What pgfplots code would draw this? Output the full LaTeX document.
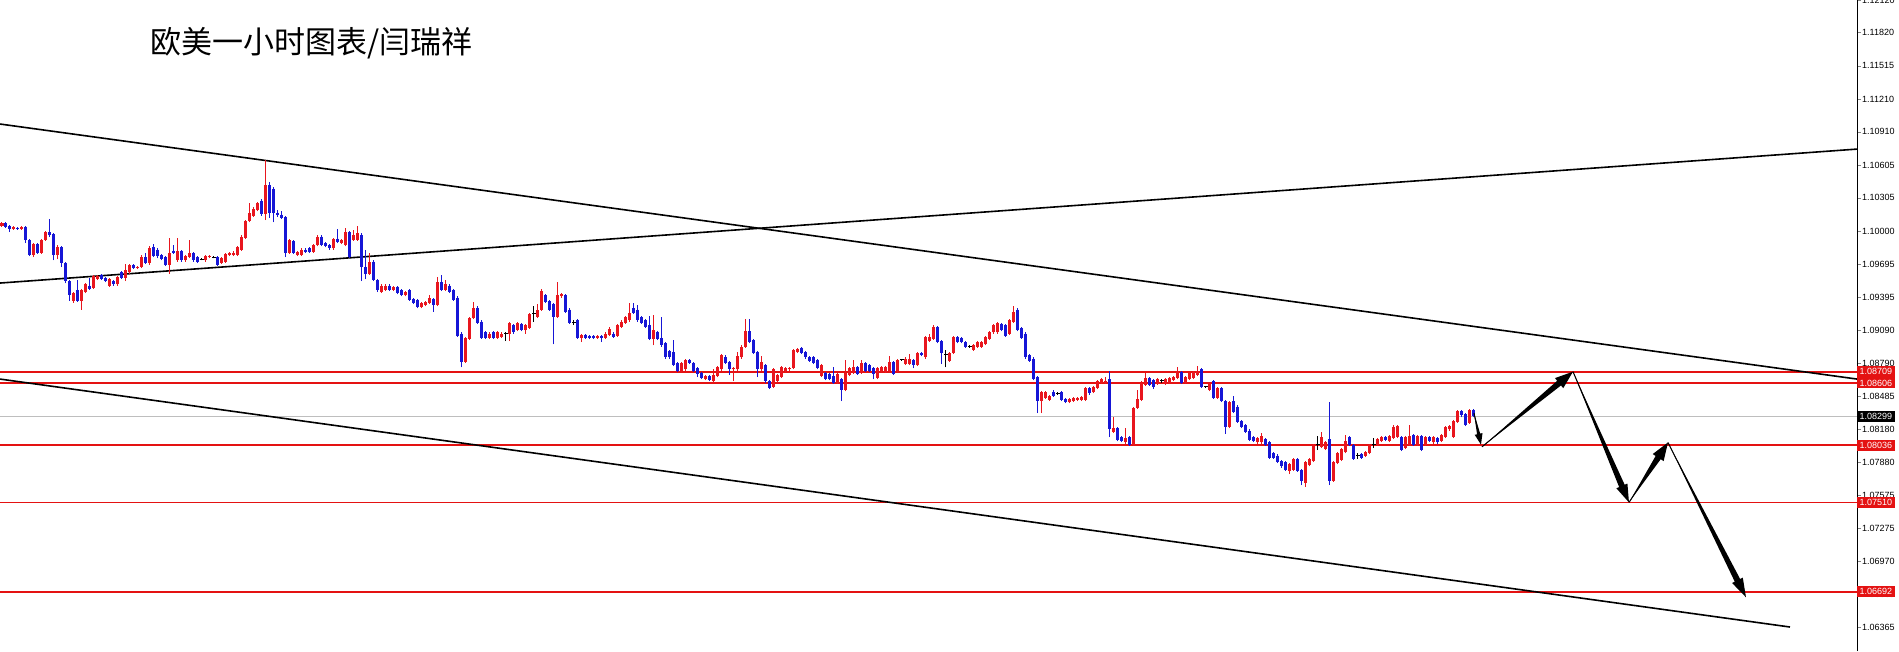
\documentclass[border=0pt]{standalone}
\usepackage{pgfplots}
\pgfplotsset{compat=1.18}
\usepackage{pgfplotstable}
\usepackage{fontspec}
\setmainfont{Liberation Sans}
\newfontfamily\cjk{Noto Sans CJK SC}
\usetikzlibrary{calc}

\definecolor{cup}{RGB}{232,22,30}
\definecolor{cdn}{RGB}{22,22,214}
\definecolor{lvl}{RGB}{228,18,18}
\definecolor{cur}{RGB}{190,190,190}

% EURUSD 1h candles: index, open, high, low, close
\pgfplotstableread{
x o h l c
0 1.1005 1.1008 1.1004 1.1007
1 1.1007 1.1008 1.1003 1.1004
2 1.1005 1.1006 1.0999 1.1002
3 1.1002 1.1005 1.1001 1.1004
4 1.1003 1.1004 1.1001 1.1002
5 1.1002 1.1005 1.1001 1.1004
6 1.1004 1.1005 1.0989 1.0992
7 1.0992 1.0993 1.0977 1.0978
8 1.0978 1.0989 1.0976 1.0988
9 1.0988 1.0989 1.0979 1.0980
10 1.0980 1.0993 1.0979 1.0992
11 1.0992 1.1000 1.0991 1.0999
12 1.0999 1.1011 1.0995 1.0996
13 1.0997 1.0998 1.0973 1.0978
14 1.0978 1.0987 1.0974 1.0985
15 1.0985 1.0986 1.0967 1.0971
16 1.0971 1.0972 1.0952 1.0954
17 1.0954 1.0955 1.0936 1.0941
18 1.0936 1.0944 1.0934 1.0943
19 1.0946 1.0955 1.0935 1.0936
20 1.0936 1.0947 1.0928 1.0946
21 1.0944 1.0952 1.0943 1.0951
22 1.0950 1.0957 1.0946 1.0947
23 1.0948 1.0960 1.0947 1.0959
24 1.0956 1.0960 1.0955 1.0959
25 1.0960 1.0961 1.0955 1.0956
26 1.0957 1.0958 1.0953 1.0954
27 1.0950 1.0957 1.0949 1.0956
28 1.0954 1.0955 1.0950 1.0951
29 1.0951 1.0959 1.0950 1.0958
30 1.0962 1.0963 1.0956 1.0957
31 1.0957 1.0970 1.0954 1.0964
32 1.0962 1.0970 1.0961 1.0969
33 1.0969 1.0970 1.0965 1.0966
34 1.0966 1.0968 1.0965 1.0967
35 1.0967 1.0978 1.0966 1.0976
36 1.0976 1.0980 1.0970 1.0971
37 1.0971 1.0986 1.0969 1.0984
38 1.0985 1.0988 1.0976 1.0977
39 1.0983 1.0984 1.0975 1.0977
40 1.0978 1.0979 1.0973 1.0974
41 1.0976 1.0977 1.0968 1.0969
42 1.0969 1.0994 1.0961 1.0980
43 1.0982 1.0987 1.0979 1.0980
44 1.0973 1.0994 1.0972 1.0982
45 1.0982 1.0983 1.0972 1.0973
46 1.0973 1.0978 1.0972 1.0977
47 1.0976 1.0992 1.0975 1.0980
48 1.0980 1.0981 1.0972 1.0973
49 1.0976 1.0977 1.0971 1.0972
50 1.0974 1.0975 1.0973 1.0974
51 1.0973 1.0978 1.0972 1.0977
52 1.0976 1.0978 1.0975 1.0977
53 1.0976 1.0977 1.0975 1.0976
54 1.0976 1.0977 1.0968 1.0969
55 1.0971 1.0976 1.0970 1.0975
56 1.0972 1.0980 1.0971 1.0979
57 1.0978 1.0981 1.0977 1.0980
58 1.0978 1.0982 1.0977 1.0980
59 1.0978 1.0986 1.0977 1.0985
60 1.0983 1.0996 1.0982 1.0995
61 1.0994 1.1010 1.0993 1.1009
62 1.1009 1.1026 1.1008 1.1017
63 1.1014 1.1022 1.1013 1.1020
64 1.1019 1.1027 1.1018 1.1026
65 1.1028 1.1029 1.1014 1.1016
66 1.1016 1.1065 1.1010 1.1042
67 1.1042 1.1045 1.1012 1.1017
68 1.1039 1.1040 1.1008 1.1017
69 1.1017 1.1019 1.1013 1.1015
70 1.1015 1.1018 1.1011 1.1012
71 1.1013 1.1014 1.0976 1.0980
72 1.0980 1.0993 1.0979 1.0992
73 1.0991 1.0992 1.0979 1.0980
74 1.0978 1.0982 1.0977 1.0981
75 1.0978 1.0984 1.0977 1.0983
76 1.0983 1.0984 1.0980 1.0981
77 1.0984 1.0985 1.0980 1.0981
78 1.0981 1.0988 1.0980 1.0987
79 1.0987 1.0996 1.0986 1.0995
80 1.0995 1.0996 1.0986 1.0987
81 1.0989 1.0990 1.0985 1.0986
82 1.0987 1.0988 1.0983 1.0984
83 1.0984 1.0994 1.0983 1.0993
84 1.0993 1.1002 1.0989 1.0990
85 1.0989 1.0993 1.0988 1.0992
86 1.0987 1.1003 1.0986 1.0999
87 1.0999 1.1000 1.0975 1.0976
88 1.0992 1.1001 1.0991 1.0996
89 1.0992 1.1005 1.0991 1.0998
90 1.0996 1.0998 1.0954 1.0967
91 1.0967 1.0983 1.0956 1.0961
92 1.0961 1.0980 1.0960 1.0972
93 1.0972 1.0973 1.0954 1.0955
94 1.0955 1.0956 1.0944 1.0946
95 1.0944 1.0951 1.0943 1.0950
96 1.0946 1.0951 1.0945 1.0950
97 1.0950 1.0951 1.0945 1.0946
98 1.0946 1.0950 1.0945 1.0949
99 1.0949 1.0950 1.0942 1.0943
100 1.0946 1.0947 1.0940 1.0941
101 1.0941 1.0945 1.0940 1.0944
102 1.0946 1.0947 1.0936 1.0937
103 1.0938 1.0939 1.0933 1.0934
104 1.0937 1.0938 1.0929 1.0930
105 1.0930 1.0935 1.0929 1.0934
106 1.0932 1.0936 1.0931 1.0935
107 1.0934 1.0941 1.0933 1.0939
108 1.0938 1.0939 1.0926 1.0932
109 1.0932 1.0958 1.0931 1.0953
110 1.0953 1.0960 1.0945 1.0946
111 1.0946 1.0955 1.0945 1.0951
112 1.0950 1.0951 1.0943 1.0944
113 1.0946 1.0947 1.0936 1.0937
114 1.0939 1.0940 1.0903 1.0904
115 1.0906 1.0907 1.0875 1.0880
116 1.0880 1.0903 1.0879 1.0902
117 1.0901 1.0921 1.0900 1.0920
118 1.0920 1.0935 1.0919 1.0929
119 1.0929 1.0931 1.0915 1.0916
120 1.0917 1.0918 1.0901 1.0902
121 1.0907 1.0908 1.0901 1.0902
122 1.0902 1.0907 1.0901 1.0906
123 1.0907 1.0908 1.0901 1.0902
124 1.0902 1.0908 1.0901 1.0907
125 1.0903 1.0907 1.0902 1.0906
126 1.0906 1.0907 1.0899 1.0906
127 1.0906 1.0917 1.0899 1.0916
128 1.0914 1.0915 1.0906 1.0907
129 1.0909 1.0917 1.0908 1.0916
130 1.0915 1.0916 1.0908 1.0909
131 1.0909 1.0915 1.0906 1.0914
132 1.0911 1.0925 1.0910 1.0924
133 1.0924 1.0931 1.0917 1.0924
134 1.0921 1.0933 1.0920 1.0928
135 1.0928 1.0947 1.0927 1.0945
136 1.0941 1.0942 1.0934 1.0935
137 1.0936 1.0937 1.0927 1.0928
138 1.0933 1.0934 1.0896 1.0921
139 1.0921 1.0953 1.0920 1.0941
140 1.0940 1.0943 1.0939 1.0942
141 1.0941 1.0942 1.0925 1.0926
142 1.0928 1.0929 1.0915 1.0916
143 1.0916 1.0918 1.0914 1.0916
144 1.0918 1.0919 1.0901 1.0902
145 1.0902 1.0906 1.0898 1.0905
146 1.0905 1.0906 1.0901 1.0902
147 1.0904 1.0905 1.0901 1.0902
148 1.0904 1.0905 1.0901 1.0902
149 1.0902 1.0905 1.0901 1.0904
150 1.0904 1.0905 1.0898 1.0902
151 1.0902 1.0907 1.0901 1.0906
152 1.0905 1.0912 1.0904 1.0910
153 1.0906 1.0907 1.0902 1.0903
154 1.0904 1.0915 1.0903 1.0914
155 1.0912 1.0918 1.0911 1.0917
156 1.0916 1.0922 1.0915 1.0921
157 1.0918 1.0934 1.0917 1.0925
158 1.0929 1.0934 1.0924 1.0925
159 1.0928 1.0932 1.0917 1.0918
160 1.0921 1.0922 1.0915 1.0916
161 1.0918 1.0919 1.0911 1.0912
162 1.0914 1.0922 1.0900 1.0901
163 1.0901 1.0923 1.0895 1.0909
164 1.0907 1.0908 1.0900 1.0901
165 1.0902 1.0921 1.0894 1.0895
166 1.0897 1.0898 1.0883 1.0884
167 1.0890 1.0891 1.0883 1.0884
168 1.0889 1.0900 1.0876 1.0877
169 1.0879 1.0880 1.0871 1.0872
170 1.0872 1.0880 1.0871 1.0879
171 1.0873 1.0883 1.0872 1.0882
172 1.0882 1.0883 1.0878 1.0879
173 1.0879 1.0880 1.0871 1.0872
174 1.0874 1.0875 1.0866 1.0869
175 1.0870 1.0871 1.0864 1.0865
176 1.0864 1.0868 1.0863 1.0867
177 1.0867 1.0868 1.0862 1.0863
178 1.0862 1.0873 1.0861 1.0868
179 1.0867 1.0876 1.0866 1.0875
180 1.0873 1.0887 1.0872 1.0886
181 1.0884 1.0886 1.0878 1.0879
182 1.0880 1.0881 1.0868 1.0873
183 1.0873 1.0875 1.0862 1.0874
184 1.0873 1.0889 1.0872 1.0885
185 1.0884 1.0895 1.0883 1.0894
186 1.0894 1.0919 1.0893 1.0908
187 1.0908 1.0919 1.0897 1.0898
188 1.0900 1.0901 1.0887 1.0888
189 1.0889 1.0890 1.0866 1.0873
190 1.0873 1.0885 1.0872 1.0880
191 1.0877 1.0878 1.0861 1.0862
192 1.0862 1.0863 1.0855 1.0856
193 1.0857 1.0874 1.0856 1.0873
194 1.0862 1.0869 1.0861 1.0868
195 1.0866 1.0876 1.0865 1.0875
196 1.0872 1.0875 1.0871 1.0874
197 1.0873 1.0875 1.0872 1.0874
198 1.0874 1.0892 1.0873 1.0891
199 1.0889 1.0893 1.0888 1.0892
200 1.0893 1.0894 1.0887 1.0888
201 1.0889 1.0890 1.0883 1.0884
202 1.0884 1.0885 1.0880 1.0881
203 1.0884 1.0885 1.0878 1.0879
204 1.0882 1.0883 1.0873 1.0874
205 1.0867 1.0878 1.0866 1.0877
206 1.0870 1.0871 1.0863 1.0864
207 1.0869 1.0870 1.0863 1.0864
208 1.0867 1.0875 1.0860 1.0861
209 1.0861 1.0870 1.0860 1.0869
210 1.0864 1.0865 1.0844 1.0854
211 1.0854 1.0882 1.0853 1.0870
212 1.0868 1.0875 1.0867 1.0874
213 1.0870 1.0882 1.0869 1.0875
214 1.0875 1.0876 1.0868 1.0869
215 1.0870 1.0882 1.0869 1.0879
216 1.0879 1.0880 1.0871 1.0872
217 1.0877 1.0878 1.0871 1.0872
218 1.0874 1.0875 1.0864 1.0869
219 1.0865 1.0875 1.0864 1.0874
220 1.0872 1.0876 1.0871 1.0875
221 1.0871 1.0876 1.0870 1.0875
222 1.0872 1.0885 1.0871 1.0880
223 1.0880 1.0881 1.0868 1.0869
224 1.0872 1.0883 1.0871 1.0882
225 1.0882 1.0883 1.0881 1.0882
226 1.0878 1.0884 1.0877 1.0883
227 1.0878 1.0887 1.0877 1.0883
228 1.0882 1.0883 1.0874 1.0877
229 1.0877 1.0889 1.0876 1.0888
230 1.0888 1.0889 1.0885 1.0886
231 1.0884 1.0904 1.0883 1.0903
232 1.0899 1.0906 1.0898 1.0903
233 1.0901 1.0914 1.0900 1.0912
234 1.0912 1.0913 1.0897 1.0898
235 1.0899 1.0900 1.0878 1.0888
236 1.0887 1.0891 1.0875 1.0887
237 1.0881 1.0889 1.0880 1.0888
238 1.0888 1.0904 1.0887 1.0903
239 1.0903 1.0904 1.0897 1.0898
240 1.0902 1.0903 1.0897 1.0898
241 1.0898 1.0899 1.0893 1.0894
242 1.0894 1.0895 1.0893 1.0894
243 1.0891 1.0896 1.0890 1.0895
244 1.0894 1.0899 1.0893 1.0898
245 1.0894 1.0899 1.0893 1.0898
246 1.0896 1.0904 1.0895 1.0903
247 1.0901 1.0908 1.0900 1.0907
248 1.0907 1.0915 1.0906 1.0914
249 1.0907 1.0917 1.0906 1.0916
250 1.0915 1.0916 1.0908 1.0909
251 1.0914 1.0915 1.0903 1.0904
252 1.0906 1.0919 1.0905 1.0918
253 1.0917 1.0931 1.0916 1.0926
254 1.0928 1.0929 1.0908 1.0909
255 1.0911 1.0912 1.0901 1.0902
256 1.0906 1.0907 1.0883 1.0884
257 1.0886 1.0887 1.0880 1.0881
258 1.0883 1.0884 1.0863 1.0864
259 1.0866 1.0867 1.0833 1.0844
260 1.0844 1.0853 1.0833 1.0852
261 1.0847 1.0853 1.0846 1.0852
262 1.0845 1.0850 1.0844 1.0849
263 1.0852 1.0854 1.0848 1.0849
264 1.0851 1.0852 1.0850 1.0851
265 1.0852 1.0853 1.0844 1.0845
266 1.0846 1.0847 1.0842 1.0843
267 1.0843 1.0847 1.0842 1.0846
268 1.0844 1.0848 1.0843 1.0847
269 1.0845 1.0848 1.0844 1.0847
270 1.0845 1.0849 1.0844 1.0848
271 1.0845 1.0857 1.0844 1.0856
272 1.0856 1.0857 1.0850 1.0851
273 1.0852 1.0858 1.0851 1.0857
274 1.0856 1.0863 1.0855 1.0862
275 1.0861 1.0865 1.0860 1.0864
276 1.0861 1.0866 1.0860 1.0862
277 1.0864 1.0872 1.0811 1.0818
278 1.0816 1.0829 1.0815 1.0819
279 1.0819 1.0820 1.0807 1.0808
280 1.0811 1.0812 1.0806 1.0807
281 1.0806 1.0819 1.0805 1.0810
282 1.0811 1.0812 1.0803 1.0804
283 1.0804 1.0839 1.0803 1.0838
284 1.0838 1.0854 1.0837 1.0846
285 1.0845 1.0862 1.0844 1.0861
286 1.0859 1.0870 1.0858 1.0865
287 1.0865 1.0866 1.0858 1.0859
288 1.0863 1.0864 1.0855 1.0857
289 1.0860 1.0865 1.0859 1.0864
290 1.0863 1.0864 1.0861 1.0863
291 1.0860 1.0865 1.0859 1.0864
292 1.0861 1.0866 1.0860 1.0865
293 1.0863 1.0867 1.0862 1.0866
294 1.0865 1.0875 1.0864 1.0872
295 1.0871 1.0872 1.0860 1.0861
296 1.0861 1.0867 1.0860 1.0866
297 1.0864 1.0871 1.0863 1.0870
298 1.0865 1.0872 1.0864 1.0871
299 1.0868 1.0876 1.0867 1.0872
300 1.0873 1.0874 1.0856 1.0857
301 1.0857 1.0858 1.0856 1.0857
302 1.0854 1.0861 1.0853 1.0860
303 1.0862 1.0863 1.0846 1.0847
304 1.0847 1.0857 1.0846 1.0856
305 1.0856 1.0857 1.0843 1.0844
306 1.0844 1.0845 1.0814 1.0820
307 1.0820 1.0844 1.0819 1.0843
308 1.0844 1.0849 1.0833 1.0834
309 1.0839 1.0840 1.0824 1.0825
310 1.0826 1.0827 1.0819 1.0820
311 1.0822 1.0823 1.0815 1.0816
312 1.0817 1.0818 1.0807 1.0808
313 1.0811 1.0812 1.0806 1.0807
314 1.0806 1.0811 1.0805 1.0810
315 1.0806 1.0815 1.0805 1.0812
316 1.0809 1.0810 1.0803 1.0804
317 1.0806 1.0807 1.0791 1.0792
318 1.0796 1.0797 1.0791 1.0792
319 1.0794 1.0795 1.0787 1.0788
320 1.0789 1.0790 1.0783 1.0784
321 1.0788 1.0789 1.0780 1.0781
322 1.0780 1.0787 1.0777 1.0786
323 1.0781 1.0792 1.0780 1.0791
324 1.0791 1.0792 1.0779 1.0780
325 1.0781 1.0782 1.0767 1.0771
326 1.0769 1.0789 1.0765 1.0788
327 1.0785 1.0792 1.0784 1.0791
328 1.0789 1.0805 1.0788 1.0804
329 1.0804 1.0812 1.0799 1.0804
330 1.0802 1.0816 1.0801 1.0811
331 1.0800 1.0807 1.0799 1.0806
332 1.0809 1.0843 1.0767 1.0771
333 1.0771 1.0789 1.0770 1.0788
334 1.0787 1.0797 1.0786 1.0796
335 1.0790 1.0801 1.0789 1.0800
336 1.0797 1.0813 1.0796 1.0807
337 1.0811 1.0812 1.0803 1.0804
338 1.0804 1.0805 1.0790 1.0791
339 1.0794 1.0796 1.0791 1.0794
340 1.0795 1.0796 1.0791 1.0792
341 1.0794 1.0798 1.0793 1.0797
342 1.0796 1.0805 1.0795 1.0804
343 1.0804 1.0810 1.0801 1.0804
344 1.0804 1.0810 1.0803 1.0809
345 1.0807 1.0812 1.0806 1.0811
346 1.0811 1.0812 1.0807 1.0808
347 1.0807 1.0813 1.0806 1.0812
348 1.0810 1.0822 1.0809 1.0820
349 1.0811 1.0822 1.0810 1.0821
350 1.0811 1.0812 1.0798 1.0799
351 1.0801 1.0812 1.0800 1.0811
352 1.0804 1.0822 1.0803 1.0812
353 1.0813 1.0814 1.0803 1.0804
354 1.0804 1.0813 1.0803 1.0812
355 1.0812 1.0813 1.0798 1.0799
356 1.0804 1.0812 1.0803 1.0811
357 1.0811 1.0812 1.0806 1.0807
358 1.0806 1.0812 1.0805 1.0811
359 1.0810 1.0811 1.0805 1.0806
360 1.0807 1.0814 1.0806 1.0813
361 1.0811 1.0821 1.0810 1.0820
362 1.0818 1.0822 1.0817 1.0821
363 1.0811 1.0827 1.0810 1.0826
364 1.0825 1.0836 1.0824 1.0835
365 1.0835 1.0836 1.0829 1.0831
366 1.0832 1.0833 1.0821 1.0822
367 1.0824 1.0837 1.0823 1.0836
368 1.0836 1.0837 1.0829 1.0830
}\candles

% tapered MT4-style arrow: start, tip, shaft half width, head half width, head length
\newcommand\taper[5]{%
  \path ($(#2)!#5!(#1)$) coordinate (tb);
  \fill[black] (#1) -- ($(tb)!#3!90:(#2)$) -- ($(tb)!#4!90:(#2)$) -- (#2)
    -- ($(tb)!#4!-90:(#2)$) -- ($(tb)!#3!-90:(#2)$) -- cycle;
  \draw[black, line width=1pt] (#1) -- (tb);
}

\tikzset{lbl/.style={anchor=west, text=white, font=\fontsize{9}{10}\selectfont,
  inner xsep=2.5pt, inner ysep=1.5pt, minimum height=11pt}}

\begin{document}
\begin{tikzpicture}
\useasboundingbox (0,0) rectangle (1899pt,651pt);
\begin{axis}[
    at={(0,0)}, anchor=south west,
    scale only axis, width=1857pt, height=651pt,
    xmin=-0.5, xmax=463.75, ymin=1.06147, ymax=1.1212,
    axis x line=none, axis y line*=right,
    axis line style={line width=0.8pt},
    tick align=outside, major tick length=4pt,
    ytick style={line width=0.6pt},
    ytick={1.12120,1.11820,1.11515,1.11210,1.10910,1.10605,1.10305,1.10000,1.09695,1.09395,
           1.09090,1.08790,1.08485,1.08180,1.07880,1.07575,1.07275,1.06970,1.06665,1.06365},
    yticklabels={1.12120,1.11820,1.11515,1.11210,1.10910,1.10605,1.10305,1.10000,1.09695,1.09395,
           1.09090,1.08790,1.08485,1.08180,1.07880,1.07575,1.07275,1.06970,1.06665,1.06365},
    yticklabel style={font=\fontsize{9}{10}\selectfont, inner sep=1pt},
]
% levels
\addplot[cur, line width=0.8pt] coordinates {(-0.5,1.08299) (463.75,1.08299)};
\addplot[lvl, line width=1.8pt] coordinates {(-0.5,1.08709) (463.75,1.08709)};
\addplot[lvl, line width=1.8pt] coordinates {(-0.5,1.08606) (463.75,1.08606)};
\addplot[lvl, line width=1.8pt] coordinates {(-0.5,1.08036) (463.75,1.08036)};
\addplot[lvl, line width=1.8pt] coordinates {(-0.5,1.07510) (463.75,1.07510)};
\addplot[lvl, line width=1.8pt] coordinates {(-0.5,1.06692) (463.75,1.06692)};
% trend lines
\addplot[black, line width=1.6pt] coordinates {(-0.5,1.09523) (463.75,1.10752)};
\addplot[black, line width=1.6pt] coordinates {(-0.5,1.10982) (463.75,1.08642)};
\addplot[black, line width=1.6pt] coordinates {(-0.5,1.08642) (447,1.06367)};
% candles: wicks and bodies
\addplot[cup, line width=1pt, quiver={u=0, v={\thisrow{h}-\thisrow{l}}},
  restrict expr to domain={\thisrow{c}-\thisrow{o}}{0.00005:1}] table[x=x, y=l] {\candles};
\addplot[cup, line width=3pt, quiver={u=0, v={\thisrow{c}-\thisrow{o}}},
  restrict expr to domain={\thisrow{c}-\thisrow{o}}{0.00005:1}] table[x=x, y=o] {\candles};
\addplot[cdn, line width=1pt, quiver={u=0, v={\thisrow{h}-\thisrow{l}}},
  restrict expr to domain={\thisrow{c}-\thisrow{o}}{-1:-0.00005}] table[x=x, y=l] {\candles};
\addplot[cdn, line width=3pt, quiver={u=0, v={\thisrow{c}-\thisrow{o}}},
  restrict expr to domain={\thisrow{c}-\thisrow{o}}{-1:-0.00005}] table[x=x, y=o] {\candles};
\addplot[black, line width=1pt, quiver={u=0, v={\thisrow{h}-\thisrow{l}}},
  restrict expr to domain={\thisrow{c}-\thisrow{o}}{-0.00005:0.00005}] table[x=x, y=l] {\candles};
\addplot[black, only marks, mark=-, mark size=1.6pt, mark options={line width=1pt},
  restrict expr to domain={\thisrow{c}-\thisrow{o}}{-0.00005:0.00005}] table[x=x, y=c] {\candles};
% anchors for the forecast path and the price boxes
\coordinate (A0) at (axis cs:368,1.0833);
\coordinate (A1) at (axis cs:369.75,1.0804);
\coordinate (A2) at (axis cs:370,1.0802);
\coordinate (A3) at (axis cs:392.75,1.0871);
\coordinate (A4) at (axis cs:406.75,1.0751);
\coordinate (A5) at (axis cs:416.5,1.0806);
\coordinate (A6) at (axis cs:436,1.0664);
\coordinate (R1) at (axis cs:463.75,1.08709);
\coordinate (R2) at (axis cs:463.75,1.08606);
\coordinate (R3) at (axis cs:463.75,1.08299);
\coordinate (R4) at (axis cs:463.75,1.08036);
\coordinate (R5) at (axis cs:463.75,1.07510);
\coordinate (R6) at (axis cs:463.75,1.06692);
\end{axis}

\taper{A0}{A1}{1.6pt}{4pt}{11pt}
\taper{A2}{A3}{3pt}{6.5pt}{18pt}
\taper{A3}{A4}{3pt}{6pt}{18pt}
\taper{A4}{A5}{3pt}{6.5pt}{18pt}
\taper{A5}{A6}{3pt}{6pt}{19pt}

\node[lbl, fill=lvl] at (R1) {1.08709};
\node[lbl, fill=lvl] at (R2) {1.08606};
\node[lbl, fill=black] at (R3) {1.08299};
\node[lbl, fill=lvl] at (R4) {1.08036};
\node[lbl, fill=lvl] at (R5) {1.07510};
\node[lbl, fill=lvl] at (R6) {1.06692};

\node[anchor=west, inner sep=0pt, font=\cjk\fontsize{31}{31}\selectfont] at (150pt,608pt) {欧美一小时图表/闫瑞祥};
\end{tikzpicture}
\end{document}
